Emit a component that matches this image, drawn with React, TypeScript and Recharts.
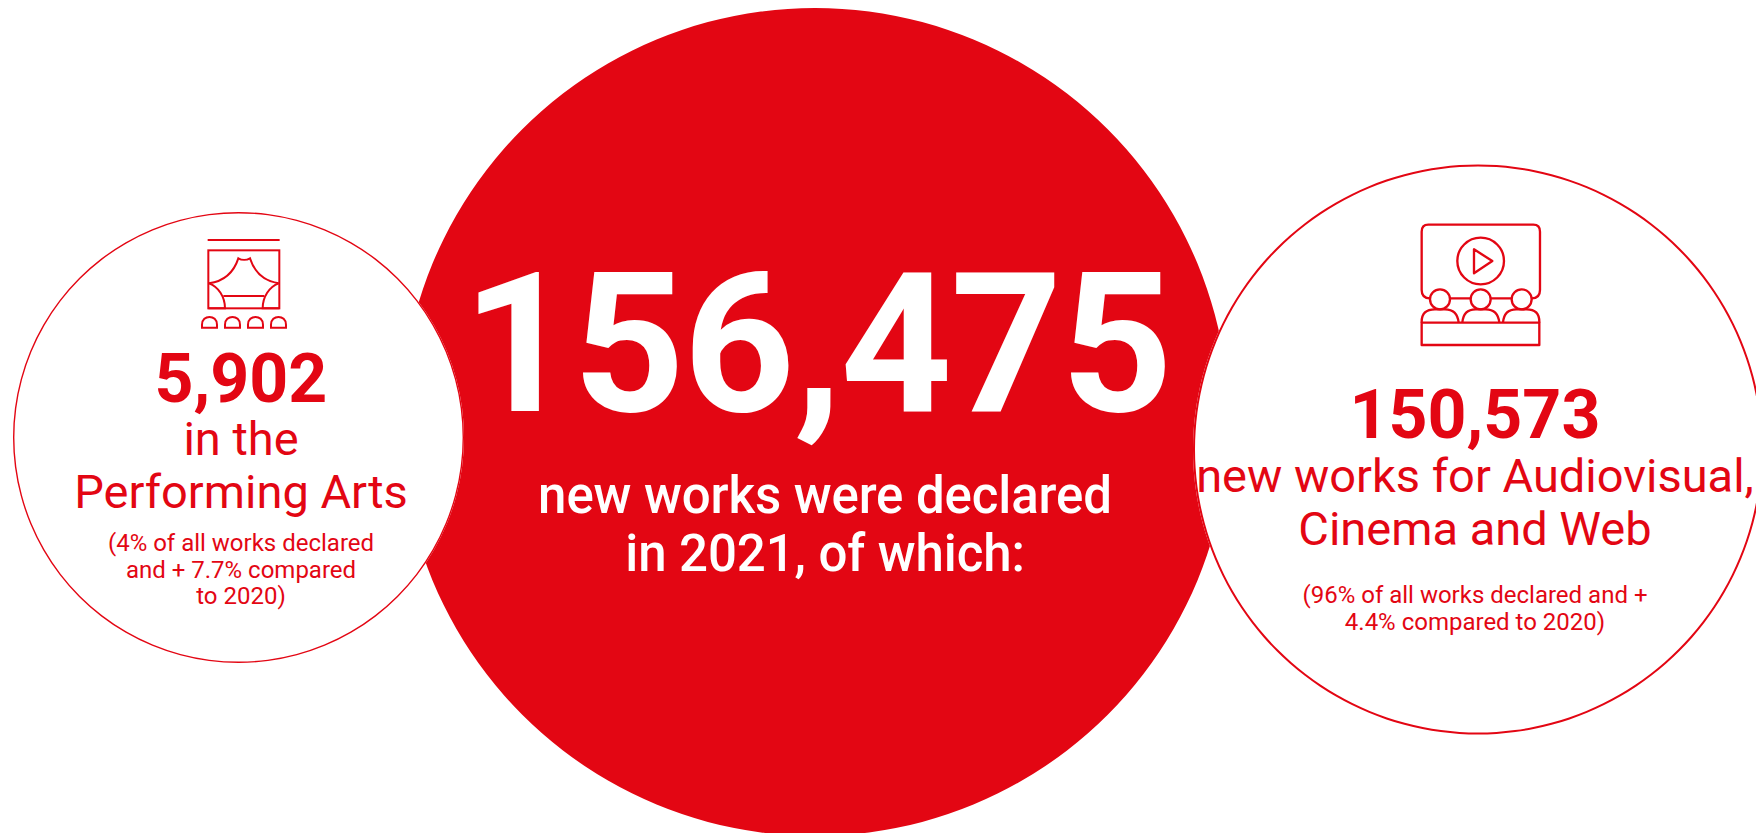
import React from 'react';
import { PieChart, Pie, Cell } from 'recharts';

const RED = '#E30613';
const WHITE = '#FFFFFF';
const FONT = 'Roboto, sans-serif';

const totalWorks = 156475;
const performingWorks = 5902;
const audiovisualWorks = 150573;

const totalLines = ['new works were declared', 'in 2021, of which:'];
const performingLines = ['in the', 'Performing Arts'];
const performingNotes = ['(4% of all works declared', 'and + 7.7% compared', 'to 2020)'];
const audiovisualLines = ['new works for Audiovisual,', 'Cinema and Web'];
const audiovisualNotes = ['(96% of all works declared and +', '4.4% compared to 2020)'];

const formatCount = (n: number) => n.toLocaleString('en-US');

// A bubble is a one-slice pie, so its full turn comes from the library's sector
const Bubble = (props: { name: string; value: number; cx: number; cy: number; r: number; fill: string; inner?: number }) => (
  <Pie
    data={[{ name: props.name, value: props.value }]}
    dataKey="value"
    nameKey="name"
    cx={props.cx}
    cy={props.cy}
    innerRadius={props.inner ?? 0}
    outerRadius={props.r}
    startAngle={90}
    endAngle={-270}
    stroke="none"
    isAnimationActive={false}
  >
    <Cell fill={props.fill} />
  </Pie>
);

const TheatreIcon = () => (
  <g transform="translate(170 220) scale(0.3333)" fill="none" stroke={RED} strokeWidth={6}>
    <path d="M113 60H329" />
    <rect x="115" y="91" width="213" height="174" />
    <path d="M117 190C165 183 192 155 205 115C215 121 230 121 240 115C253 155 280 183 326 190" />
    <path d="M117 190C145 200 165 230 165 265H115" />
    <path d="M326 190C298 200 278 230 278 265H328" />
    <path d="M160 228H283" />
    <path d="M96 323V314C96 283 141 283 141 314V323Z" />
    <path d="M165 323V314C165 283 210 283 210 314V323Z" />
    <path d="M234 323V314C234 283 279 283 279 314V323Z" />
    <path d="M303 323V314C303 283 348 283 348 314V323Z" />
  </g>
);

const CinemaIcon = () => (
  <g transform="translate(1400 210) scale(0.3333)" fill="none" stroke={RED} strokeWidth={7} strokeLinejoin="round">
    <path d="M90 265Q65 265 65 240V65Q65 44 85 44H400Q420 44 420 65V240Q420 265 395 265" />
    <path d="M150 265H212M272 265H335" />
    <circle cx="242" cy="153" r="70" />
    <path d="M222 118V190L277 153Z" />
    <circle cx="120" cy="268" r="30" />
    <circle cx="242" cy="268" r="30" />
    <circle cx="365" cy="268" r="30" />
    <path d="M65 338V335Q65 298 105 298H135Q172 298 176 338" />
    <path d="M187 338Q190 298 227 298H257Q294 298 298 338" />
    <path d="M309 338Q312 298 349 298H380Q418 298 418 335V338" />
    <rect x="65" y="338" width="353" height="67" />
  </g>
);

const Label = (props: { x: number; y: number; size: number; weight?: number; color?: string; spacing?: number; children: React.ReactNode }) => (
  <text
    x={props.x}
    y={props.y}
    textAnchor="middle"
    fontFamily={FONT}
    fontSize={props.size}
    fontWeight={props.weight ?? 400}
    fill={props.color ?? RED}
    letterSpacing={props.spacing}
  >
    {props.children}
  </text>
);

export default function App() {
  return (
    <div style={{ position: 'absolute', left: 0, top: 0, width: 1756, height: 833, overflow: 'hidden', background: WHITE }}>
      <PieChart width={1756} height={833} margin={{ top: 0, right: 0, bottom: 0, left: 0 }}>
        {Bubble({ name: 'All works', value: totalWorks, cx: 815, cy: 422, r: 414, fill: RED })}
        {Bubble({ name: 'Performing Arts', value: performingWorks, cx: 238.5, cy: 437.5, r: 225.5, fill: WHITE })}
        {Bubble({ name: 'Performing Arts outline', value: performingWorks, cx: 238.5, cy: 437.5, r: 225.5, inner: 224.1, fill: RED })}
        {Bubble({ name: 'Audiovisual', value: audiovisualWorks, cx: 1478, cy: 449.5, r: 285, fill: WHITE })}
        {Bubble({ name: 'Audiovisual outline', value: audiovisualWorks, cx: 1478, cy: 449.5, r: 285, inner: 283, fill: RED })}
      </PieChart>

      {/* Icons and copy sit over the pie layer */}
      <svg width={1756} height={833} style={{ position: 'absolute', left: 0, top: 0 }}>
        <TheatreIcon />
        <CinemaIcon />

        <Label x={817} y={411} size={195} weight={700} color={WHITE} spacing={-1.5}>{formatCount(totalWorks)}</Label>
        <Label x={825} y={513} size={51} weight={500} color={WHITE} spacing={-0.1}>{totalLines[0]}</Label>
        <Label x={825} y={571} size={51} weight={500} color={WHITE} spacing={-0.1}>{totalLines[1]}</Label>

        <Label x={241} y={402} size={68} weight={700}>{formatCount(performingWorks)}</Label>
        <Label x={241} y={455} size={47}>{performingLines[0]}</Label>
        <Label x={241} y={508} size={47}>{performingLines[1]}</Label>
        <Label x={241} y={551} size={24}>{performingNotes[0]}</Label>
        <Label x={241} y={578} size={24}>{performingNotes[1]}</Label>
        <Label x={241} y={604} size={24}>{performingNotes[2]}</Label>

        <Label x={1475} y={438} size={68} weight={700}>{formatCount(audiovisualWorks)}</Label>
        <Label x={1475} y={492} size={47}>{audiovisualLines[0]}</Label>
        <Label x={1475} y={545} size={47}>{audiovisualLines[1]}</Label>
        <Label x={1475} y={603} size={24}>{audiovisualNotes[0]}</Label>
        <Label x={1475} y={630} size={24}>{audiovisualNotes[1]}</Label>
      </svg>
    </div>
  );
}
